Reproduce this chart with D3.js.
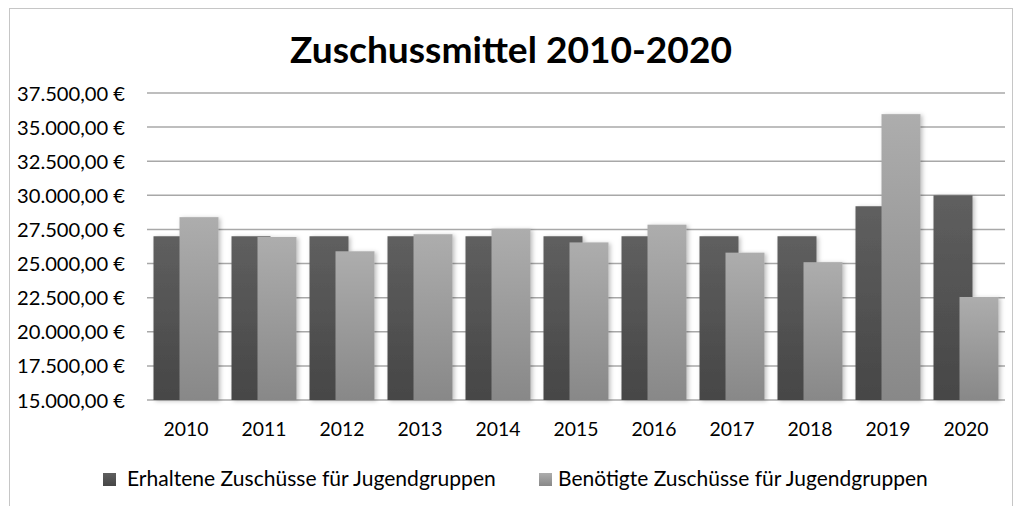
<!DOCTYPE html>
<html>
<head>
<meta charset="utf-8">
<script src="https://cdn.jsdelivr.net/npm/d3@7"></script>
<style>
  body { margin: 0; background: #fff; }
  text { font-family: Lato, "Open Sans", sans-serif; fill: #000; }
</style>
</head>
<body>
<script>
var years = ['2010','2011','2012','2013','2014','2015','2016','2017','2018','2019','2020'];
var erhalten = [27000,27000,27000,27000,27000,27000,27000,27000,27000,29200,30000];
var benoetigt = [28400,26950,25900,27150,27550,26550,27850,25800,25100,35950,22550];
var seriesNames = ['Erhaltene Zuschüsse für Jugendgruppen','Benötigte Zuschüsse für Jugendgruppen'];
var yTicks = [15000,17500,20000,22500,25000,27500,30000,32500,35000,37500];
var titleText = 'Zuschussmittel 2010-2020';

var width = 1014, height = 506;

var de = d3.formatLocale({decimal: ',', thousands: '.', grouping: [3], currency: ['', ' €']});
var euro = de.format('$,.2f');

var svg = d3.select('body').append('svg').attr('width', width).attr('height', height);

// fit a text to a measured width by scaling its font size
function fit(sel, w) {
  sel.each(function() {
    var fs = parseFloat(d3.select(this).style('font-size'));
    var len = this.getComputedTextLength();
    d3.select(this).style('font-size', (fs * w / len) + 'px');
  });
}

var defs = svg.append('defs');
function grad(id, top, bottom) {
  var g = defs.append('linearGradient').attr('id', id).attr('x1', 0).attr('y1', 0).attr('x2', 0).attr('y2', 1);
  g.append('stop').attr('offset', '0%').attr('stop-color', top);
  g.append('stop').attr('offset', '100%').attr('stop-color', bottom);
}
grad('gDark', '#5f5f5f', '#464646');
grad('gLight', '#adadad', '#888888');
var f = defs.append('filter').attr('id', 'shadow').attr('x', '-20%').attr('y', '-10%').attr('width', '150%').attr('height', '130%');
f.append('feDropShadow').attr('dx', 2).attr('dy', 1).attr('stdDeviation', 2).attr('flood-color', '#000').attr('flood-opacity', 0.25);

// frame
svg.append('rect').attr('x', 9.5).attr('y', 8.5).attr('width', 1003).attr('height', 520)
  .attr('fill', 'none').attr('stroke', '#c6c6c6');

var x = d3.scaleBand().domain(years).range([147, 1005]).paddingInner(1/6).paddingOuter(1/12);
var y = d3.scaleLinear().domain([15000, 37500]).range([400, 93]);

// grid
svg.append('g').selectAll('line').data(yTicks).enter().append('line')
  .attr('x1', 147).attr('x2', 1005)
  .attr('y1', function(d) { return y(d); }).attr('y2', function(d) { return y(d); })
  .attr('stroke', '#a8a8a8').attr('stroke-width', 1.5);

var yAxis = d3.axisLeft(y).tickValues(yTicks).tickFormat(euro).tickSize(0).tickPadding(22);
var ya = svg.append('g').attr('transform', 'translate(147,0)').call(yAxis);
ya.select('.domain').remove();
ya.selectAll('text').style('font-size', '16px').attr('dy', '0.35em').call(fit, 108);

var bw = x.bandwidth();
var bars = svg.append('g').attr('filter', 'url(#shadow)');
bars.selectAll('rect.dark').data(erhalten).enter().append('rect').attr('class', 'dark')
  .attr('x', function(d, i) { return x(years[i]); })
  .attr('width', bw * 0.6)
  .attr('y', function(d) { return y(d); })
  .attr('height', function(d) { return y(15000) - y(d); })
  .attr('fill', 'url(#gDark)');
bars.selectAll('rect.light').data(benoetigt).enter().append('rect').attr('class', 'light')
  .attr('x', function(d, i) { return x(years[i]) + bw * 0.4; })
  .attr('width', bw * 0.6)
  .attr('y', function(d) { return y(d); })
  .attr('height', function(d) { return y(15000) - y(d); })
  .attr('fill', 'url(#gLight)');

var xAxis = d3.axisBottom(x).tickSize(0).tickPadding(22);
var xa = svg.append('g').attr('transform', 'translate(0,400)').call(xAxis);
xa.select('.domain').remove();
xa.selectAll('text').style('font-size', '16px').call(fit, 45);

// title
svg.append('text').attr('x', 511).attr('y', 63).attr('text-anchor', 'middle')
  .style('font-size', '34px').style('font-weight', 'bold').text(titleText).call(fit, 442);

// legend
var legX = [103, 539], legTextW = [369, 370];
var fills = ['url(#gDark)', 'url(#gLight)'];
var leg = svg.append('g').selectAll('g').data(seriesNames).enter().append('g');
leg.append('rect').attr('x', function(d, i) { return legX[i]; }).attr('y', 473)
  .attr('width', 13).attr('height', 13).attr('fill', function(d, i) { return fills[i]; });
leg.append('text').attr('x', function(d, i) { return legX[i] + (i ? 19 : 24); }).attr('y', 486)
  .style('font-size', '18px').text(function(d) { return d; })
  .each(function(d, i) { d3.select(this).call(fit, legTextW[i]); });
</script>
</body>
</html>
